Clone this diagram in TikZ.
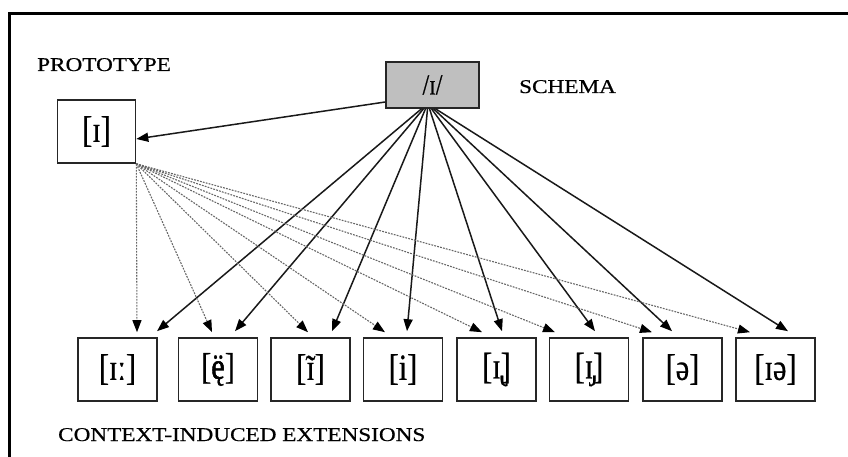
\documentclass[tikz,border=0pt]{standalone}
\usepackage{fontspec}
\setmainfont{Liberation Serif}[FakeBold=0.6]
\usetikzlibrary{arrows.meta}

% horizontally widened caption text
\newcommand\widecap[1]{\scalebox{1.19}[1]{#1}}
% narrowed phonetic symbols
\newcommand\ipa[1]{\scalebox{0.82}[1]{#1}}
% a symbol with a mark laid over it, centred
\newcommand\overmark[2]{\ooalign{#1\cr\hidewidth#2\hidewidth\cr}}

\begin{document}
\begin{tikzpicture}[x=1pt,y=-1pt,
  caption/.style={inner sep=0pt, font=\fontsize{19.5}{22}\selectfont},
  extbox/.style={draw=black!85, line width=1.6pt, minimum width=79pt,
    minimum height=63pt, inner sep=0pt, font=\fontsize{37}{40}\selectfont},
  protobox/.style={extbox, minimum width=78pt},
  schemabox/.style={draw=black!85, fill=black!25, line width=1.6pt,
    minimum width=93pt, minimum height=46pt, inner sep=0pt,
    font=\fontsize{29}{32}\selectfont},
  tip/.style={-{Triangle[length=12pt,width=9pt,black]}},
  solidarrow/.style={tip, draw=black!90, line width=1.5pt},
  dotarrow/.style={tip, draw=black!60, line width=1.1pt,
    dash pattern=on 1.8pt off 1.2pt}
]
\useasboundingbox (0,0) rectangle (848,457);

% outer frame, open to the right and bottom
\draw[line width=2.8pt, line join=miter] (9.5,470) -- (9.5,13.5) -- (860,13.5);

% captions
\node[caption, anchor=base west] (lproto) at (37,71) {\widecap{PROTOTYPE}};
\node[caption, anchor=base west] (lschema) at (519,93) {\widecap{SCHEMA}};
\node[caption, anchor=base west] (lext) at (58,441) {\widecap{CONTEXT-INDUCED EXTENSIONS}};

% schema and prototype
\node[schemabox] (schema) at (432.5,85) {\ipa{/ɪ/}};
\node[protobox] (proto) at (96.5,131.5) {\ipa{[ɪ]}};

% context-induced extensions
\node[extbox] (b1) at (117.5,369.5) {\ipa{[ɪː]}};
\node[extbox] (b2) at (218,369.5)   {\ipa{[\overmark{ë}{ę}]}};
\node[extbox] (b3) at (310.5,369.5) {\ipa{[\overmark{ɪ}{\raisebox{-0.02em}{\char"02DC}}]}};
\node[extbox] (b4) at (403,369.5)   {\ipa{[i]}};
\node[extbox] (b5) at (496.5,369.5) {\ipa{[ɪ̢]}};
\node[extbox] (b6) at (589,369.5)   {\ipa{[ɪ̡]}};
\node[extbox] (b7) at (682.5,369.5) {\ipa{[ə]}};
\node[extbox] (b8) at (775.5,369.5) {\ipa{[ɪə]}};

% schema sanctions the prototype
\draw[solidarrow] ([yshift=-17pt]schema.west) -- ([yshift=-7.5pt]proto.east);

% schema sanctions each extension
\foreach \b/\s/\e in {b1/-11/39.5, b2/-9/17, b3/-7/21.5, b4/-5/4,
                      b5/-3/5.5, b6/-1/6, b7/1/-10.5, b8/3/12.5}
  \draw[solidarrow] ([xshift=\s pt]schema.south) -- ([xshift=\e pt, yshift=6pt]\b.north);

% prototype extends to each variant
\foreach \b/\e in {b1/19.5, b2/-6, b3/-2.5, b4/-18,
                   b5/-14.5, b6/-34, b7/-30.5, b8/-25.5}
  \draw[dotarrow] (proto.south east) -- ([xshift=\e pt, yshift=5pt]\b.north);
\end{tikzpicture}
\end{document}
